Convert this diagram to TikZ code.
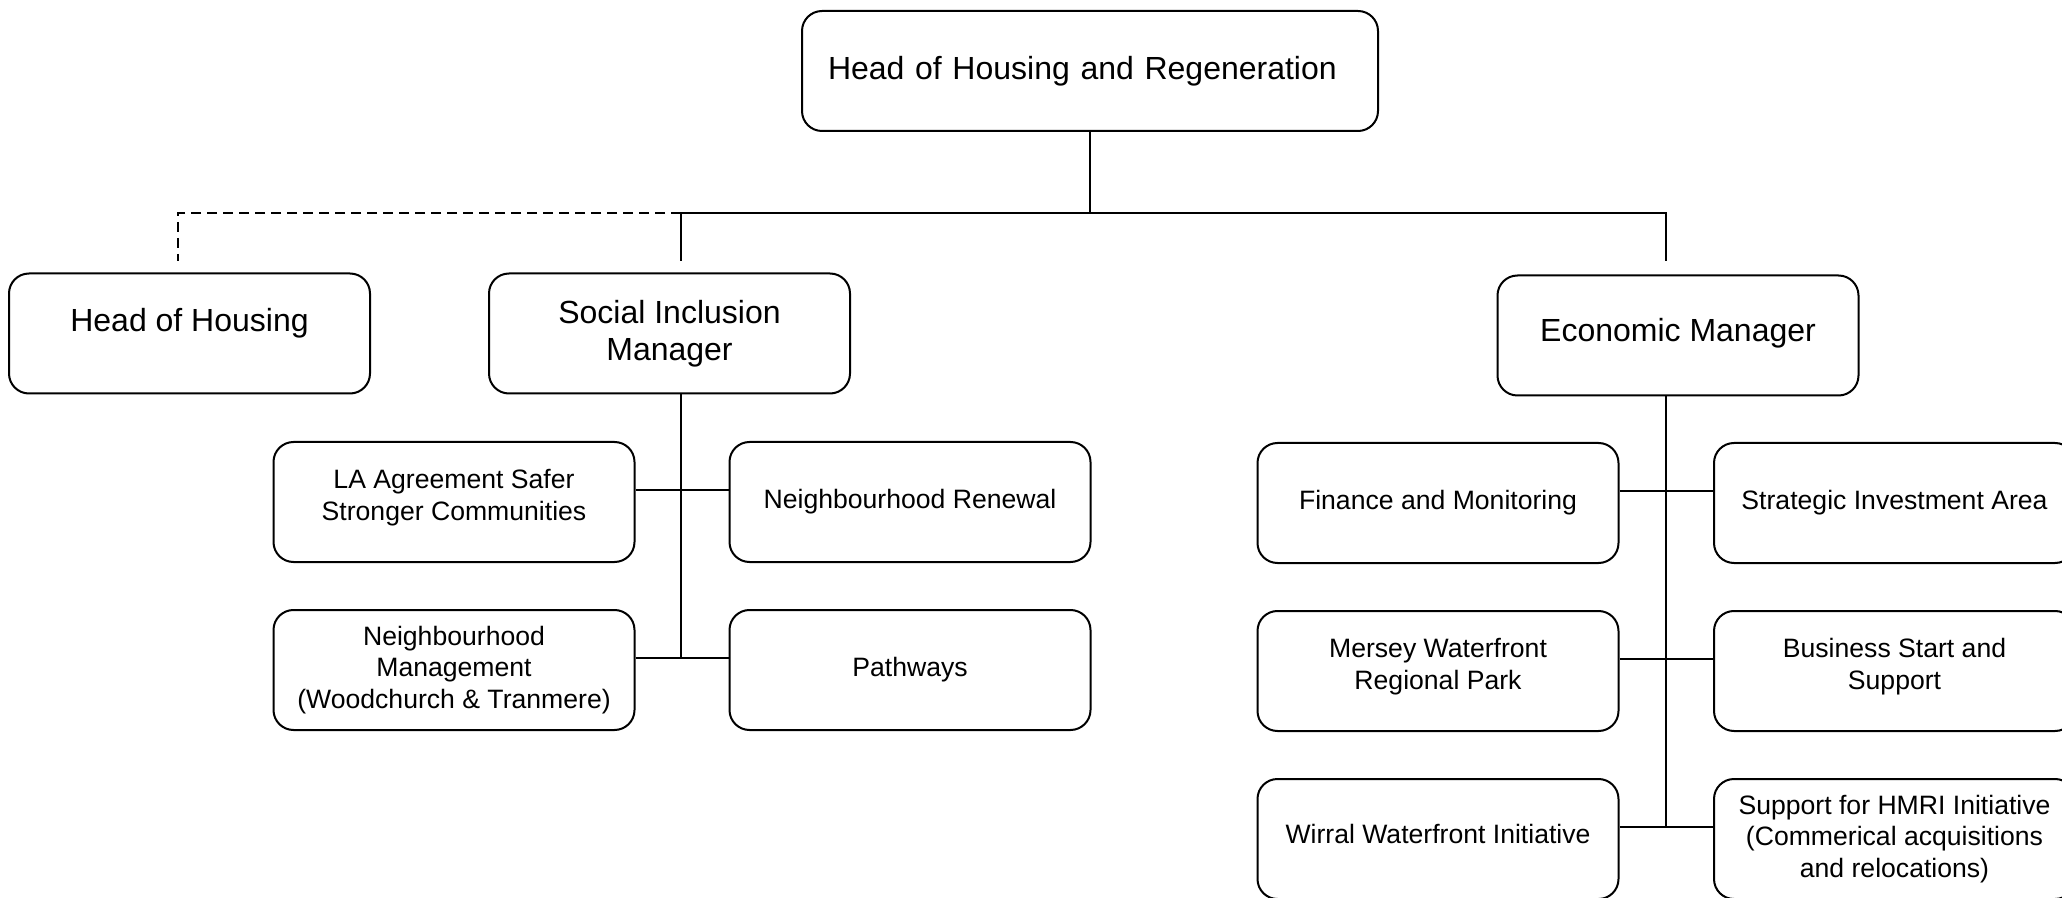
\documentclass[tikz,border=0pt]{standalone}
\usepackage{fontspec}
\setmainfont{Liberation Sans}
\usepackage{tikz}
\usetikzlibrary{calc}
\newcommand{\postw}{180.5pt}
\newcommand{\posth}{60pt}

\tikzset{
  post/.style={draw, line width=1pt, rounded corners=10pt, align=center,
    minimum width=\postw, minimum height=\posth, inner sep=2pt},
  toppost/.style={post, font=\fontsize{16}{18.5}\selectfont},
  subpost/.style={post, font=\fontsize{13.3}{15.8}\selectfont},
  raised/.style={text depth=#1},
  link/.style={line width=0.9pt},
}

\begin{document}
\begin{tikzpicture}[x=0.5pt, y=-0.5pt]
        \useasboundingbox (0,0) rectangle (2062,898);
        \begin{scope}
        %\draw[help lines] (0,0) grid (2062,898);
            \node[toppost, text width=262pt, align=left, inner xsep=13pt] (hhr) at (1090,71) {Head of Housing and Regeneration};
            \node[toppost, raised=14pt] (hoh) at (189.5,333.5) {Head of Housing};
            \node[toppost] (sim) at (669.5,333.5) {Social Inclusion\\Manager};
            \node[toppost, raised=6pt] (ecm) at (1678,335.5) {Economic Manager};

            \node[subpost, raised=7pt] (laa) at (454,502) {LA Agreement Safer\\Stronger Communities};
            \node[subpost] (nren) at (910,502) {Neighbourhood Renewal};
            \node[subpost] (nman) at (454,670) {Neighbourhood\\Management\\(Woodchurch \& Tranmere)};
            \node[subpost] (path) at (910,670) {Pathways};

            \node[subpost] (fin) at (1438,503) {Finance and Monitoring};
            \node[subpost] (sia) at (1894.5,503) {Strategic Investment Area};
            \node[subpost, raised=7pt] (mwrp) at (1438,671) {Mersey Waterfront\\Regional Park};
            \node[subpost, raised=7pt] (bss) at (1894.5,671) {Business Start and\\Support};
            \node[subpost, raised=5pt] (wwi) at (1438,839) {Wirral Waterfront Initiative};
            \node[subpost] (hmri) at (1894.5,839) {Support for HMRI Initiative\\(Commerical acquisitions\\and relocations)};

            \coordinate (bus) at (1090,213);
            \coordinate (hohtap) at (178,213);
            \coordinate (hohend) at (178,261);
            \coordinate (simtap) at (681,213);
            \coordinate (simend) at (681,261);
            \coordinate (ecmtap) at (1666,213);
            \coordinate (ecmend) at (1666,261);
            \coordinate (lrow1) at (681,490);
            \coordinate (lrow2) at (681,658);
            \coordinate (rrow1) at (1666,491);
            \coordinate (rrow2) at (1666,659);
            \coordinate (rrow3) at (1666,827);

            \draw[link] (hhr.south) -- (bus);
            \draw[link] (simtap) -- (ecmtap) -- (ecmend);
            \draw[link] (simtap) -- (simend);
            \draw[link, dash pattern=on 5pt off 3pt] (simtap) -- (hohtap) -- (hohend);

            \draw[link] (simtap |- sim.south) -- (lrow2);
            \draw[link] (laa.east |- lrow1) -- (nren.west |- lrow1);
            \draw[link] (nman.east |- lrow2) -- (path.west |- lrow2);

            \draw[link] (ecmtap |- ecm.south) -- (rrow3);
            \draw[link] (fin.east |- rrow1) -- (sia.west |- rrow1);
            \draw[link] (mwrp.east |- rrow2) -- (bss.west |- rrow2);
            \draw[link] (wwi.east |- rrow3) -- (hmri.west |- rrow3);
        \end{scope}
    \end{tikzpicture}
\end{document}
